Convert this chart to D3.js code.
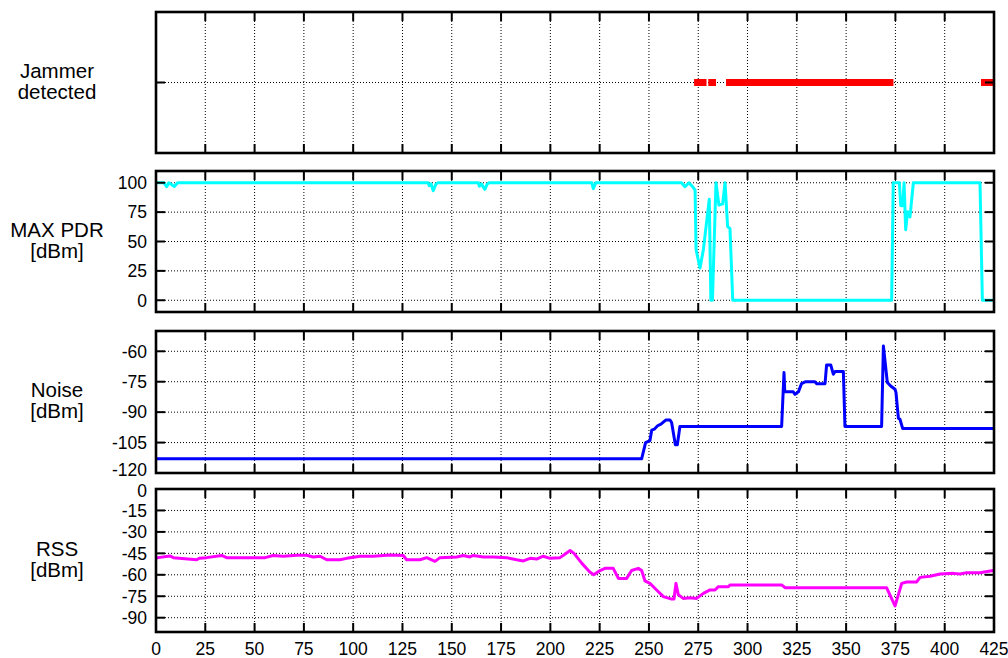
<!DOCTYPE html>
<html>
<head>
<meta charset="utf-8">
<script src="https://cdn.jsdelivr.net/npm/d3@7"></script>
<style>
  body { margin: 0; background: #fff; }
  svg { display: block; }
  text { font-family: "Liberation Sans", Arial, sans-serif; fill: #000; }
</style>
</head>
<body>
<svg id="chart" width="1008" height="658"></svg>
<script>
// x axis (time) ticks
const xTicks = [0, 25, 50, 75, 100, 125, 150, 175, 200, 225, 250, 275, 300, 325, 350, 375, 400, 425]

// jammer detected intervals [start, end]
const jammer = [[272.9, 279.2], [280.1, 284], [289.1, 374], [418.4, 425]]

// [time, value]
const pdr = [[0,100],[4,100],[5.4,96.6],[6.5,100],[7.5,99],[9.3,96.8],[11,100],[138,100],[138.6,97.5],[139.5,99],
  [140.6,93.2],[142,99],[143,100],[163.5,100],[164,97],[165,99],[166.8,94.4],[168,99],[169,100],[221,100],
  [221.8,95],[223,100],[266.5,100],[268.3,96.6],[270.3,100],[271.7,97.5],[273.4,93.8],[273.9,43],[275.9,27.4],
  [277.6,43],[280.6,86],[281.4,0],[282.2,0],[284,100],[285.5,81],[287.4,82],[288.6,100],[289.9,62.7],[291.1,61],
  [292.5,0],[373.1,0],[373.9,100],[377,100],[377.7,80.5],[378.7,80.5],[379.4,100],[380.2,60],[381.2,75.4],
  [382.4,71],[384.1,100],[417.9,100],[419.1,0],[425,0]]

const noise = [[0,-113],[246.3,-113],[248.3,-105],[250.5,-104],[251.4,-98.9],[252.7,-98.4],[254.4,-96.7],
  [256.1,-95.9],[258.5,-93.9],[260.7,-93.9],[261.5,-95.1],[263.4,-106.1],[264.4,-106.1],[265.7,-97.1],
  [317.3,-97.1],[318.5,-70.5],[318.9,-80],[323.2,-80],[324.1,-81.2],[325.8,-80],[327.4,-75.9],[329.5,-75],
  [334.2,-75],[335.1,-76],[339.3,-76],[340.1,-66.7],[342.2,-66.7],[343.5,-71.3],[344.4,-70],[348.6,-70],
  [349.4,-97.1],[368,-97.1],[368.9,-57.4],[370.9,-75.4],[372.6,-77.1],[374.8,-78.7],[375.3,-80.4],[376.5,-93],
  [377.3,-93.5],[378.7,-98.1],[425,-98.1]]

const rss = [[0,-48],[1,-48],[7,-46.8],[8.8,-48],[20.6,-49.5],[21.9,-48.5],[25.7,-48],[33.3,-46.5],[35.8,-48],
  [55.3,-48],[59.4,-46.5],[64.6,-47],[71.4,-46.3],[76.4,-46.3],[79.8,-47.5],[83.2,-47],[86.6,-49.5],[93.3,-49.5],
  [96.7,-48.5],[103.5,-47],[110.2,-47],[118.7,-46.2],[125.4,-46.5],[127.1,-49.5],[133.9,-49.5],[137.3,-48],
  [141.5,-50.6],[144,-48],[152.5,-47.5],[155.9,-46.5],[159.2,-47.5],[160.9,-46.5],[166,-47.5],[171,-47.5],
  [177.8,-48],[182.9,-49.5],[186.3,-50.3],[189.7,-48.5],[193,-49],[196.4,-47],[199.8,-48.5],[204.9,-48],
  [207,-46],[210,-43],[212,-45],[216,-52],[220,-58],[222,-60],[225.2,-57],[227.7,-55.5],[231.9,-55.5],
  [234.5,-62.5],[238.7,-62.5],[241.2,-57],[244.6,-55.5],[246.3,-57],[248,-64.3],[250.5,-66],[253.9,-70.6],
  [257.3,-75.3],[261.5,-77],[262.7,-77],[263.7,-66],[264.9,-74],[267.4,-76.5],[270.8,-76],[274.2,-76.5],
  [277.6,-73],[281,-70.6],[283.5,-70.6],[285.2,-68.3],[290.3,-68.3],[291.1,-67.1],[317.3,-67.1],[319,-69],
  [370.5,-69],[374.8,-81.8],[378.2,-66],[380.7,-65],[385.8,-65],[387.5,-61.8],[392.6,-61],[397.6,-59.4],
  [404.4,-59],[407.8,-59.5],[411.2,-58.5],[417.9,-58.6],[424.6,-57],[425,-57]]

const panels = [
  { label: ['Jammer', 'detected'], top: 12, bottom: 153, domain: [0, 2], ticks: [1], showLabels: false },
  { label: ['MAX PDR', '[dBm]'], top: 171, bottom: 312, domain: [-10, 110], ticks: [0, 25, 50, 75, 100], showLabels: true, data: pdr, color: '#00ffff' },
  { label: ['Noise', '[dBm]'], top: 331, bottom: 473, domain: [-120, -50], ticks: [-120, -105, -90, -75, -60], showLabels: true, data: noise, color: '#0000ff' },
  { label: ['RSS', '[dBm]'], top: 489, bottom: 632, domain: [-100, 0], ticks: [-90, -75, -60, -45, -30, -15, 0], showLabels: true, data: rss, color: '#ff00ff' }
]

const svg = d3.select('#chart')
const left = 156, right = 994
const tickLen = 9

const x = d3.scaleLinear().domain([0, 425]).range([left, right])

panels.forEach((p, i) => {
  const y = d3.scaleLinear().domain(p.domain).range([p.bottom, p.top])
  const g = svg.append('g').attr('class', 'panel')

  // dotted grid
  const grid = g.append('g').attr('stroke', '#000').attr('stroke-width', 1).attr('stroke-dasharray', '1,2')
  grid.selectAll('.gx').data(xTicks.filter((t) => t > 0 && t < 425))
    .enter().append('line')
    .attr('x1', (d) => x(d)).attr('x2', (d) => x(d))
    .attr('y1', p.top).attr('y2', p.bottom)
  grid.selectAll('.gy').data(p.ticks.filter((t) => y(t) > p.top + 1 && y(t) < p.bottom - 1))
    .enter().append('line')
    .attr('x1', left).attr('x2', right)
    .attr('y1', (d) => y(d)).attr('y2', (d) => y(d))

  // clip for data
  svg.append('clipPath').attr('id', `clip-${i}`)
    .append('rect').attr('x', left).attr('y', p.top).attr('width', right - left).attr('height', p.bottom - p.top)

  if (p.data) {
    const line = d3.line().x((d) => x(d[0])).y((d) => y(d[1]))
    g.append('path')
      .datum(p.data)
      .attr('clip-path', `url(#clip-${i})`)
      .attr('fill', 'none')
      .attr('stroke', p.color)
      .attr('stroke-width', 3)
      .attr('stroke-linejoin', 'round')
      .attr('d', line)
  } else {
    g.selectAll('.jam').data(jammer)
      .enter().append('line')
      .attr('x1', (d) => x(d[0])).attr('x2', (d) => x(d[1]))
      .attr('y1', y(1)).attr('y2', y(1))
      .attr('stroke', '#ff0000')
      .attr('stroke-width', 7)
  }

  // ticks on all four sides
  const tk = g.append('g').attr('stroke', '#000').attr('stroke-width', 2)
  xTicks.forEach((t) => {
    tk.append('line').attr('x1', x(t)).attr('x2', x(t)).attr('y1', p.top).attr('y2', p.top + tickLen)
    tk.append('line').attr('x1', x(t)).attr('x2', x(t)).attr('y1', p.bottom).attr('y2', p.bottom - tickLen)
  })
  p.ticks.forEach((t) => {
    tk.append('line').attr('x1', left).attr('x2', left + tickLen).attr('y1', y(t)).attr('y2', y(t))
    tk.append('line').attr('x1', right).attr('x2', right - tickLen).attr('y1', y(t)).attr('y2', y(t))
  })

  // frame
  g.append('rect')
    .attr('x', left).attr('y', p.top)
    .attr('width', right - left).attr('height', p.bottom - p.top)
    .attr('fill', 'none').attr('stroke', '#000').attr('stroke-width', 2.6)

  // y tick labels (edge labels nudged apart where panels meet)
  if (p.showLabels) {
    g.selectAll('.ylab').data(p.ticks)
      .enter().append('text')
      .attr('x', left - 9)
      .attr('y', (d) => {
        if (y(d) >= p.bottom - 1) return y(d) - 3
        if (y(d) <= p.top + 1) return y(d) + 2
        return y(d)
      })
      .attr('dy', '0.36em')
      .attr('text-anchor', 'end')
      .style('font-size', '17.5px')
      .text((d) => d)
  }

  // panel label
  const mid = (p.top + p.bottom) / 2
  g.selectAll('.plab').data(p.label)
    .enter().append('text')
    .attr('x', 57)
    .attr('y', (d, j) => mid - 5 + j * 21)
    .attr('text-anchor', 'middle')
    .style('font-size', '20.5px')
    .text((d) => d)
})

// x tick labels under the last panel
svg.append('g').selectAll('text').data(xTicks)
  .enter().append('text')
  .attr('x', (d) => x(d))
  .attr('y', 655)
  .attr('text-anchor', 'middle')
  .style('font-size', '17.5px')
  .text((d) => d)
</script>
</body>
</html>
